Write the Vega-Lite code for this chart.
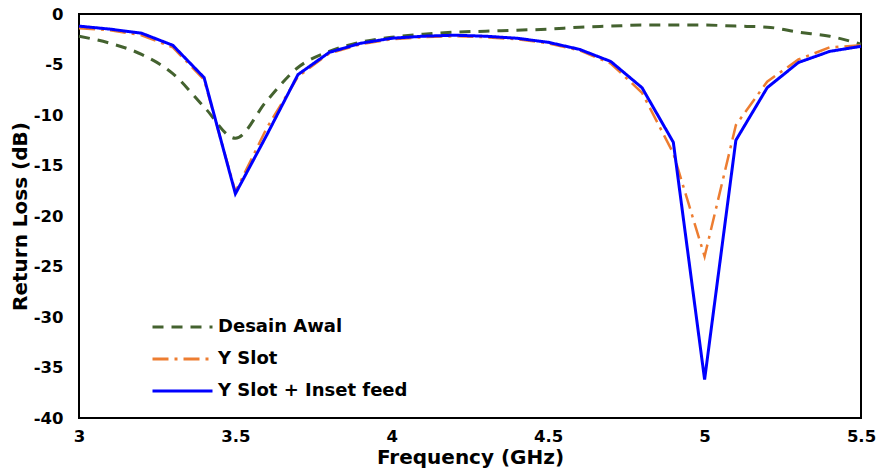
{
  "$schema": "https://vega.github.io/schema/vega-lite/v6.json",
  "width": 782,
  "height": 404,
  "autosize": {"type": "none"},
  "padding": {"left": 79, "top": 14, "right": 16, "bottom": 57},
  "background": "white",
  "config": {
    "view": {"stroke": "black", "strokeWidth": 2},
    "font": "DejaVu Sans",
    "axis": {"grid": false, "domain": false, "ticks": false, "labelFont": "DejaVu Sans", "labelFontWeight": "bold", "labelFontSize": 16.5, "labelColor": "black", "titleFont": "DejaVu Sans", "titleFontWeight": "bold", "titleFontSize": 20, "titleColor": "black", "labelExpr": "datum.value + ''"}
  },
  "data": {"values": [
    {"f":3.0,"s":"Y Slot + Inset feed","v":-1.2},{"f":3.1,"s":"Y Slot + Inset feed","v":-1.5},{"f":3.2,"s":"Y Slot + Inset feed","v":-1.9},{"f":3.3,"s":"Y Slot + Inset feed","v":-3.1},{"f":3.4,"s":"Y Slot + Inset feed","v":-6.3},{"f":3.5,"s":"Y Slot + Inset feed","v":-17.8},{"f":3.6,"s":"Y Slot + Inset feed","v":-12.0},{"f":3.7,"s":"Y Slot + Inset feed","v":-6.0},{"f":3.8,"s":"Y Slot + Inset feed","v":-3.8},{"f":3.9,"s":"Y Slot + Inset feed","v":-2.9},{"f":4.0,"s":"Y Slot + Inset feed","v":-2.4},{"f":4.1,"s":"Y Slot + Inset feed","v":-2.2},{"f":4.2,"s":"Y Slot + Inset feed","v":-2.1},{"f":4.3,"s":"Y Slot + Inset feed","v":-2.2},{"f":4.4,"s":"Y Slot + Inset feed","v":-2.4},{"f":4.5,"s":"Y Slot + Inset feed","v":-2.8},{"f":4.6,"s":"Y Slot + Inset feed","v":-3.5},{"f":4.7,"s":"Y Slot + Inset feed","v":-4.7},{"f":4.8,"s":"Y Slot + Inset feed","v":-7.3},{"f":4.9,"s":"Y Slot + Inset feed","v":-12.7},{"f":5.0,"s":"Y Slot + Inset feed","v":-36.2},{"f":5.1,"s":"Y Slot + Inset feed","v":-12.5},{"f":5.2,"s":"Y Slot + Inset feed","v":-7.3},{"f":5.3,"s":"Y Slot + Inset feed","v":-4.8},{"f":5.4,"s":"Y Slot + Inset feed","v":-3.7},{"f":5.5,"s":"Y Slot + Inset feed","v":-3.2},
    {"f":3.0,"s":"Y Slot","v":-1.4},{"f":3.1,"s":"Y Slot","v":-1.6},{"f":3.2,"s":"Y Slot","v":-2.1},{"f":3.3,"s":"Y Slot","v":-3.3},{"f":3.4,"s":"Y Slot","v":-6.5},{"f":3.5,"s":"Y Slot","v":-17.6},{"f":3.6,"s":"Y Slot","v":-11.3},{"f":3.7,"s":"Y Slot","v":-6.2},{"f":3.8,"s":"Y Slot","v":-3.9},{"f":3.9,"s":"Y Slot","v":-3.0},{"f":4.0,"s":"Y Slot","v":-2.5},{"f":4.1,"s":"Y Slot","v":-2.3},{"f":4.2,"s":"Y Slot","v":-2.2},{"f":4.3,"s":"Y Slot","v":-2.3},{"f":4.4,"s":"Y Slot","v":-2.5},{"f":4.5,"s":"Y Slot","v":-2.9},{"f":4.6,"s":"Y Slot","v":-3.6},{"f":4.7,"s":"Y Slot","v":-4.9},{"f":4.8,"s":"Y Slot","v":-7.8},{"f":4.9,"s":"Y Slot","v":-13.8},{"f":5.0,"s":"Y Slot","v":-24.0},{"f":5.1,"s":"Y Slot","v":-11.0},{"f":5.2,"s":"Y Slot","v":-6.7},{"f":5.3,"s":"Y Slot","v":-4.5},{"f":5.4,"s":"Y Slot","v":-3.3},{"f":5.5,"s":"Y Slot","v":-3.1},
    {"f":3.0,"s":"Desain Awal","v":-2.2},{"f":3.1,"s":"Desain Awal","v":-2.9},{"f":3.2,"s":"Desain Awal","v":-4.0},{"f":3.3,"s":"Desain Awal","v":-5.9},{"f":3.4,"s":"Desain Awal","v":-9.2},{"f":3.5,"s":"Desain Awal","v":-12.3},{"f":3.6,"s":"Desain Awal","v":-8.6},{"f":3.7,"s":"Desain Awal","v":-5.3},{"f":3.8,"s":"Desain Awal","v":-3.7},{"f":3.9,"s":"Desain Awal","v":-2.8},{"f":4.0,"s":"Desain Awal","v":-2.3},{"f":4.1,"s":"Desain Awal","v":-2.0},{"f":4.2,"s":"Desain Awal","v":-1.8},{"f":4.3,"s":"Desain Awal","v":-1.7},{"f":4.4,"s":"Desain Awal","v":-1.6},{"f":4.5,"s":"Desain Awal","v":-1.5},{"f":4.6,"s":"Desain Awal","v":-1.3},{"f":4.7,"s":"Desain Awal","v":-1.2},{"f":4.8,"s":"Desain Awal","v":-1.1},{"f":4.9,"s":"Desain Awal","v":-1.1},{"f":5.0,"s":"Desain Awal","v":-1.1},{"f":5.1,"s":"Desain Awal","v":-1.2},{"f":5.2,"s":"Desain Awal","v":-1.3},{"f":5.3,"s":"Desain Awal","v":-1.8},{"f":5.4,"s":"Desain Awal","v":-2.2},{"f":5.5,"s":"Desain Awal","v":-3.0}
  ]},
  "encoding": {
    "x": {"field": "f", "type": "quantitative", "title": "Frequency (GHz)", "scale": {"domain": [3, 5.5], "nice": false, "zero": false}, "axis": {"values": [3, 3.5, 4, 4.5, 5, 5.5], "labelFlush": false, "labelPadding": 10, "titlePadding": 3}},
    "y": {"field": "v", "type": "quantitative", "title": "Return Loss (dB)", "scale": {"domain": [-40, 0], "nice": false}, "axis": {"values": [0, -5, -10, -15, -20, -25, -30, -35, -40], "labelFlush": false, "labelPadding": 16, "titlePadding": 3}},
    "color": {"field": "s", "type": "nominal", "title": null, "scale": {"domain": ["Desain Awal", "Y Slot", "Y Slot + Inset feed"], "range": ["#44622f", "#ED7D31", "#0000FF"]}, "legend": {"orient": "none", "legendX": 72, "legendY": 302, "symbolType": "stroke", "symbolSize": 3600, "symbolStrokeWidth": 3, "labelFont": "DejaVu Sans", "labelFontWeight": "bold", "labelFontSize": 18, "labelColor": "black", "labelLimit": 400, "rowPadding": 10, "labelOffset": 4, "clipHeight": 22}},
    "strokeDash": {"field": "s", "type": "nominal", "title": null, "scale": {"domain": ["Desain Awal", "Y Slot", "Y Slot + Inset feed"], "range": [[11, 8], [16, 6, 3, 6], [1, 0]]}}
  },
  "layer": [
    {"transform": [{"filter": "datum.s === 'Desain Awal'"}], "mark": {"type": "line", "interpolate": "monotone", "strokeWidth": 3}},
    {"transform": [{"filter": "datum.s === 'Y Slot'"}], "mark": {"type": "line", "strokeWidth": 2.5}},
    {"transform": [{"filter": "datum.s === 'Y Slot + Inset feed'"}], "mark": {"type": "line", "strokeWidth": 3}}
  ]
}
